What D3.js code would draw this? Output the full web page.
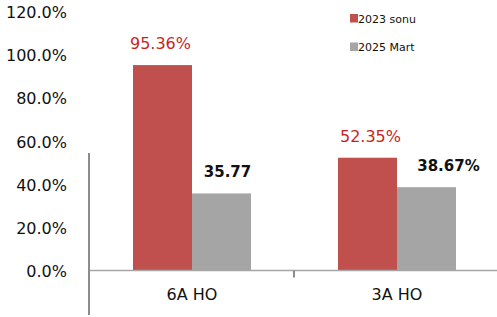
<!DOCTYPE html>
<html lang="tr">
<head>
<meta charset="utf-8">
<title>6A HO / 3A HO</title>
<script src="https://cdn.jsdelivr.net/npm/d3@7"></script>
<style>
  body { margin: 0; background: #fff; }
  text { font-family: "DejaVu Sans", sans-serif; }
</style>
</head>
<body>
<script>
// data
var categories = ["6A HO", "3A HO"];
var seriesNames = ["2023 sonu", "2025 Mart"];
var values2023 = [95.36, 52.35];
var values2025 = [35.77, 38.67];
var labels2023 = ["95.36%", "52.35%"];
var labels2025 = ["35.77", "38.67%"];
var yTicks = [0, 20, 40, 60, 80, 100, 120];

var w = 497, h = 317;
var colors = ["#c0504d", "#a5a5a5"];
var labelColors = ["#cc1f1f", "#111"];
// hand-placed label nudges (px) as in the original
var labelDx = [[-2, 6], [3, 22]];

var svg = d3.select("body").append("svg").attr("width", w).attr("height", h);

var xScale = d3.scaleBand().domain(categories).range([89.5, 499.5]).padding(0);
var xInner = d3.scaleBand().domain(seriesNames).range([43.5, 161.5]).padding(0);
var yScale = d3.scaleLinear().domain([0, 120]).range([270.5, 12]);

// y tick labels
var yAxis = d3.axisLeft(yScale).tickValues(yTicks).tickSize(0).tickPadding(0)
  .tickFormat(function(d) { return d3.format(".1f")(d) + "%"; });
var gy = svg.append("g").attr("transform", "translate(67,0)").call(yAxis);
gy.select(".domain").remove();
gy.selectAll("text").attr("font-family", "DejaVu Sans, sans-serif")
  .attr("font-size", "16px").attr("fill", "#111").attr("dy", "0.36em");

// bars
var rows = categories.map(function(c, i) {
  return [
    { cat: c, s: 0, v: values2023[i], label: labels2023[i], dx: labelDx[i][0] },
    { cat: c, s: 1, v: values2025[i], label: labels2025[i], dx: labelDx[i][1] }
  ];
});
var groups = svg.selectAll("g.grp").data(rows).enter().append("g")
  .attr("class", "grp")
  .attr("transform", function(d, i) { return "translate(" + xScale(categories[i]) + ",0)"; });

groups.selectAll("rect").data(function(d) { return d; }).enter().append("rect")
  .attr("x", function(d) { return xInner(seriesNames[d.s]); })
  .attr("width", xInner.bandwidth())
  .attr("y", function(d) { return yScale(d.v); })
  .attr("height", function(d) { return yScale(0) - yScale(d.v); })
  .attr("fill", function(d) { return colors[d.s]; });

groups.selectAll("text").data(function(d) { return d; }).enter().append("text")
  .attr("x", function(d) { return xInner(seriesNames[d.s]) + xInner.bandwidth() / 2 + d.dx; })
  .attr("y", function(d) { return yScale(d.v) - 16; })
  .attr("text-anchor", "middle")
  .attr("font-size", function(d) { return d.s === 0 ? "16px" : "15px"; })
  .attr("font-weight", function(d) { return d.s === 0 ? "normal" : "bold"; })
  .attr("fill", function(d) { return labelColors[d.s]; })
  .text(function(d) { return d.label; });

// x axis
var xAxis = d3.axisBottom(xScale).tickSize(0).tickPadding(18);
var gx = svg.append("g").attr("transform", "translate(0," + yScale(0) + ")").call(xAxis);
gx.select(".domain").attr("stroke", "#a6a6a6").attr("stroke-width", 1.5)
  .attr("d", "M89,0H497");
gx.selectAll("text").attr("font-family", "DejaVu Sans, sans-serif")
  .attr("font-size", "16px").attr("fill", "#111");
// category divider tick
svg.append("line")
  .attr("x1", xScale(categories[1]) - 0.5).attr("x2", xScale(categories[1]) - 0.5)
  .attr("y1", yScale(0)).attr("y2", yScale(0) + 7)
  .attr("stroke", "#8c8c8c").attr("stroke-width", 2);

// left vertical line
svg.append("line")
  .attr("x1", 89).attr("x2", 89).attr("y1", 153).attr("y2", 315)
  .attr("stroke", "#8c8c8c").attr("stroke-width", 2);

// legend
var legend = svg.selectAll("g.leg").data(seriesNames).enter().append("g")
  .attr("class", "leg")
  .attr("transform", function(d, i) { return "translate(350," + (14 + i * 28.5) + ")"; });
legend.append("rect").attr("width", 8).attr("height", 8.5)
  .attr("fill", function(d, i) { return colors[i]; });
legend.append("text").attr("x", 8).attr("y", 8.5)
  .attr("font-size", "11px").attr("fill", "#111")
  .text(function(d) { return d; });
</script>
</body>
</html>
